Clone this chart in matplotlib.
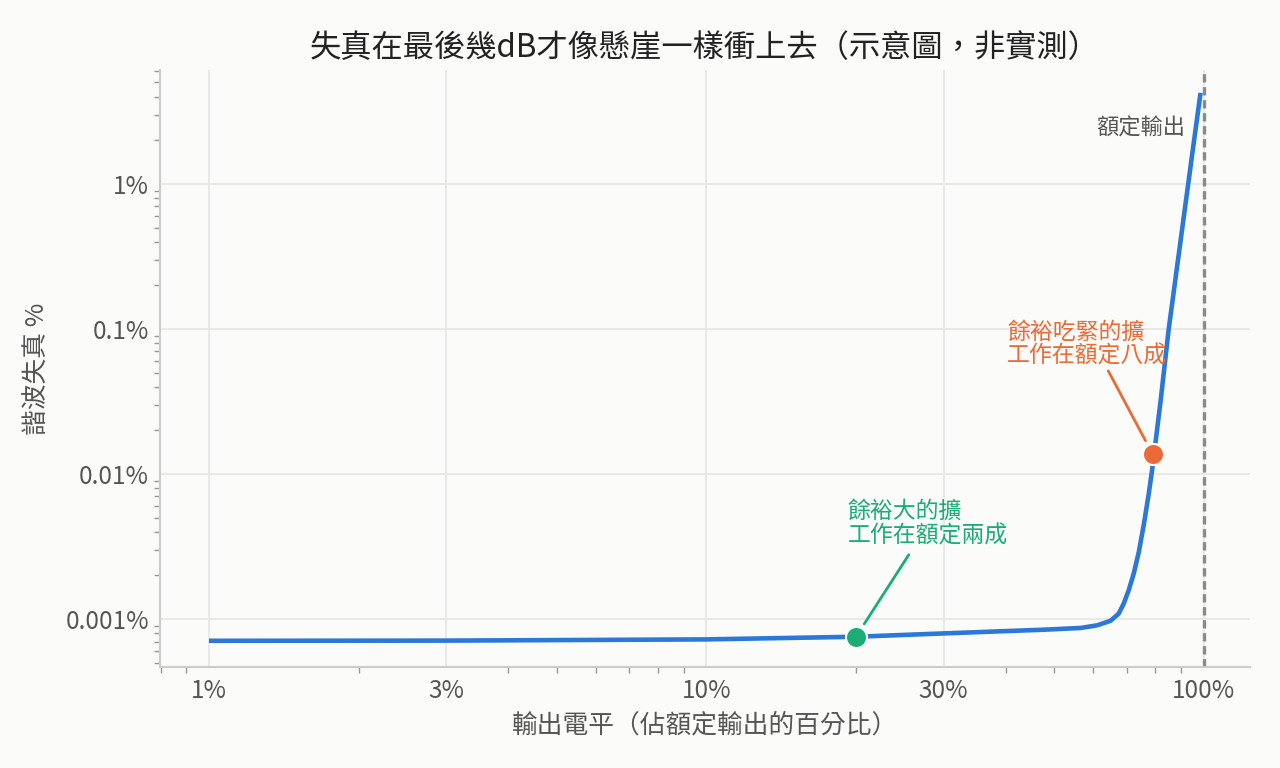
import numpy as np
import matplotlib
matplotlib.use("Agg")
import matplotlib.pyplot as plt
from matplotlib.ticker import FixedLocator, FuncFormatter, LogLocator, NullFormatter

plt.rcParams['font.family'] = ['Noto Sans CJK TC', 'DejaVu Sans']

# 輸出電平 (% of rated) vs 諧波失真 (%)
load_pct = [1, 3, 10, 20, 30, 48, 56.6, 61.1, 65.0, 67.5, 69.1, 70.7, 72.4,
            74.1, 75.9, 77.6, 78.8, 82, 85, 90, 95, 98.6]
thd_pct = [7.08e-4, 7.1e-4, 7.24e-4, 7.55e-4, 7.96e-4, 8.45e-4, 8.68e-4, 9.05e-4,
           9.73e-4, 1.09e-3, 1.28e-3, 1.58e-3, 2.07e-3, 2.91e-3, 4.57e-3, 7.36e-3,
           0.0107, 0.0324, 0.097, 0.418, 1.66, 4.24]

rated = 100
x_ticks = [1, 3, 10, 30, 100]
y_ticks = [0.001, 0.01, 0.1, 1]

# 兩個標註點
easy_pt = (20, 7.55e-4)
tight_pt = (79, 0.0137)
easy_text = "餘裕大的擴\n工作在額定兩成"
tight_text = "餘裕吃緊的擴\n工作在額定八成"

bg = '#fbfbf9'
blue = '#2b78d8'
green = '#19ad78'
orange = '#ec6a35'
grey = '#555555'

fig = plt.figure(figsize=(12.8, 7.68), dpi=100, facecolor=bg)
ax = fig.add_axes([0.125, 0.1315, 0.8516, 0.7774], facecolor=bg)

ax.set_xscale('log')
ax.set_yscale('log')
ax.set_xlim(0.797, 124)
ax.set_ylim(4.67e-4, 6.1)

ax.grid(True, which='major', color='#e6e6e6', lw=1.2)
ax.set_axisbelow(True)

ax.axvline(rated, color='#8a8a8a', lw=2.4, ls=(0, (2.5, 1.4)), zorder=2)
ax.plot(load_pct, thd_pct, color=blue, lw=3.3, solid_capstyle='butt', zorder=3)

ax.scatter(*easy_pt, s=230, color=green, edgecolor='white', lw=1.5, zorder=4)
ax.scatter(*tight_pt, s=230, color=orange, edgecolor='white', lw=1.5, zorder=4)

# 引線與文字
ax.annotate('', xy=easy_pt, xytext=(38, 59), textcoords='offset points',
            arrowprops=dict(arrowstyle='-', color=green, lw=2, shrinkA=0, shrinkB=11))
ax.annotate(easy_text, xy=easy_pt, xytext=(-6, 64), textcoords='offset points',
            ha='left', va='bottom', color=green, fontsize=16.5, linespacing=1.12)
ax.annotate('', xy=tight_pt, xytext=(-32, 60), textcoords='offset points',
            arrowprops=dict(arrowstyle='-', color=orange, lw=2, shrinkA=0, shrinkB=11))
ax.annotate(tight_text, xy=tight_pt, xytext=(-105, 62), textcoords='offset points',
            ha='left', va='bottom', color=orange, fontsize=16.5, linespacing=1.05)

ax.annotate('額定輸出', xy=(rated, 0.903), xycoords=('data', 'axes fraction'),
            xytext=(-13, 0), textcoords='offset points', ha='right', va='center',
            color=grey, fontsize=16)

ax.xaxis.set_major_locator(FixedLocator(x_ticks))
ax.xaxis.set_major_formatter(FuncFormatter(lambda v, p: f"{v:g}%"))
ax.xaxis.set_minor_locator(LogLocator(base=10, subs=np.arange(2, 10)))
ax.xaxis.set_minor_formatter(NullFormatter())
ax.yaxis.set_major_locator(FixedLocator(y_ticks))
ax.yaxis.set_major_formatter(FuncFormatter(lambda v, p: f"{v:g}%"))
ax.yaxis.set_minor_locator(LogLocator(base=10, subs=np.arange(2, 10)))
ax.yaxis.set_minor_formatter(NullFormatter())

ax.tick_params(which='major', length=0, labelsize=17.5, labelcolor=grey, pad=8)
ax.tick_params(which='minor', length=4, width=1, color='#999999')

for s in ['top', 'right']:
    ax.spines[s].set_visible(False)
for s in ['left', 'bottom']:
    ax.spines[s].set_color('#cccccc')
    ax.spines[s].set_linewidth(1.5)

ax.set_xlabel('輸出電平（佔額定輸出的百分比）', fontsize=18.5, color=grey, labelpad=6)
ax.set_ylabel('諧波失真 %', fontsize=18.5, color=grey, labelpad=10)
ax.set_title('失真在最後幾dB才像懸崖一樣衝上去（示意圖，非實測）', fontsize=22.5,
             color='#222222', fontweight='medium', pad=9)

fig.savefig('out.png', dpi=100, facecolor=bg)
